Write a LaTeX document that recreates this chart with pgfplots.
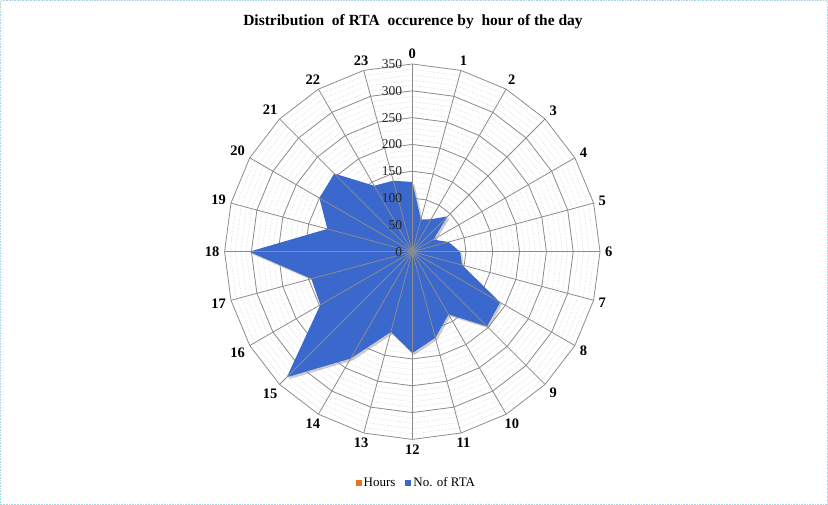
\documentclass[border=0pt]{standalone}
\usepackage{pgfplots}
\pgfplotsset{compat=1.18}
\usepackage{pgfplotstable}
\usepackage{fontspec}
\setmainfont{Liberation Serif}
\definecolor{rtablue}{RGB}{58,104,204}
\definecolor{hrorange}{RGB}{232,112,32}
\definecolor{gridc}{RGB}{140,140,140}
\definecolor{minorc}{RGB}{195,195,195}
\definecolor{framec}{RGB}{170,215,225}

% hour, number of RTA
\pgfplotstableread{
hour rta
0 130
1 62
2 70
3 93
4 45
5 70
6 89
7 96
8 189
9 197
10 135
11 166
12 189
13 155
14 230
15 331
16 198
17 195
18 304
19 164
20 200
21 206
22 142
23 137
}\rtatable

\pgfplotstableread{
hour val
0 0
1 1
2 2
3 3
4 4
5 5
6 6
7 7
8 8
9 9
10 10
11 11
12 12
13 13
14 14
15 15
16 16
17 17
18 18
19 19
20 20
21 21
22 22
23 23
}\hourtable

\def\sc{0.5363}
\begin{document}
\begin{tikzpicture}
\useasboundingbox (0,0) rectangle (828bp,505bp);
\draw[framec, densely dotted, line width=0.6bp] (0.5bp,0.5bp) rectangle (827.5bp,504.5bp);
% title
\node[font=\fontsize{15.5bp}{18bp}\selectfont\bfseries] at (413bp,483bp) {Distribution\ \ of RTA\ \ occurence by\ \ hour of the day};
% grid
\begin{scope}[shift={(412.3bp,253.3bp)}]
  \foreach \r in {10,20,...,340}{
    \pgfmathsetmacro\rr{\r*\sc}
    \draw[minorc, line width=0.4bp, densely dotted] (90:\rr bp) \foreach \a in {75,60,...,-255}{ -- (\a:\rr bp)} -- cycle;
  }
  \foreach \r in {50,100,...,350}{
    \pgfmathsetmacro\rr{\r*\sc}
    \draw[gridc, line width=0.8bp] (90:\rr bp) \foreach \a in {75,60,...,-255}{ -- (\a:\rr bp)} -- cycle;
  }
\end{scope}
\begin{axis}[
  at={(412.3bp,253.3bp)}, anchor=center,
  x=0.5363bp, y=0.5363bp,
  xmin=-380, xmax=380, ymin=-380, ymax=380,
  hide axis, clip=false,
  legend style={draw=none, fill=none, legend columns=2,
    font=\fontsize{13bp}{15bp}\selectfont,
    at={(0.51,-0.0675)}, anchor=center,
    /tikz/every even column/.append style={column sep=8bp}},
  legend image code/.code={\fill[#1] (0bp,-3bp) rectangle (6bp,3bp);},
]
\addplot[fill=hrorange, draw=none, data cs=polar] table[x expr={90-15*\thisrow{hour}}, y=val] {\hourtable};
\addlegendentry{Hours}
\addplot[fill=black!40, draw=none, opacity=0.5, data cs=polar, xshift=2bp, yshift=-2bp, forget plot] table[x expr={90-15*\thisrow{hour}}, y=rta] {\rtatable};
\addplot[fill=rtablue, draw=none, data cs=polar] table[x expr={90-15*\thisrow{hour}}, y=rta] {\rtatable};
\addlegendentry{No. of RTA}
\end{axis}
\begin{scope}[shift={(412.3bp,253.3bp)}]
  \pgfmathsetmacro\R{350*\sc}
  \foreach \a in {90,75,...,-255}{
    \draw[gridc, line width=0.8bp] (0,0) -- (\a:\R bp);
  }
  \foreach \h in {0,...,23}{
    \pgfmathsetmacro\ang{90-15*\h}
    \pgfmathsetmacro\anc{\ang+180}
    \node[font=\fontsize{14.5bp}{16bp}\selectfont\bfseries, anchor=\anc, inner sep=3bp] at (\ang:{\R bp + 2bp}) {\h};
  }
  \foreach \v in {0,50,...,350}{
    \pgfmathsetmacro\yy{\v*\sc}
    \node[font=\fontsize{13.5bp}{15bp}\selectfont, anchor=east, inner sep=0bp, text=black!85] at (-10bp,\yy bp) {\v};
  }
\end{scope}
\end{tikzpicture}
\end{document}
